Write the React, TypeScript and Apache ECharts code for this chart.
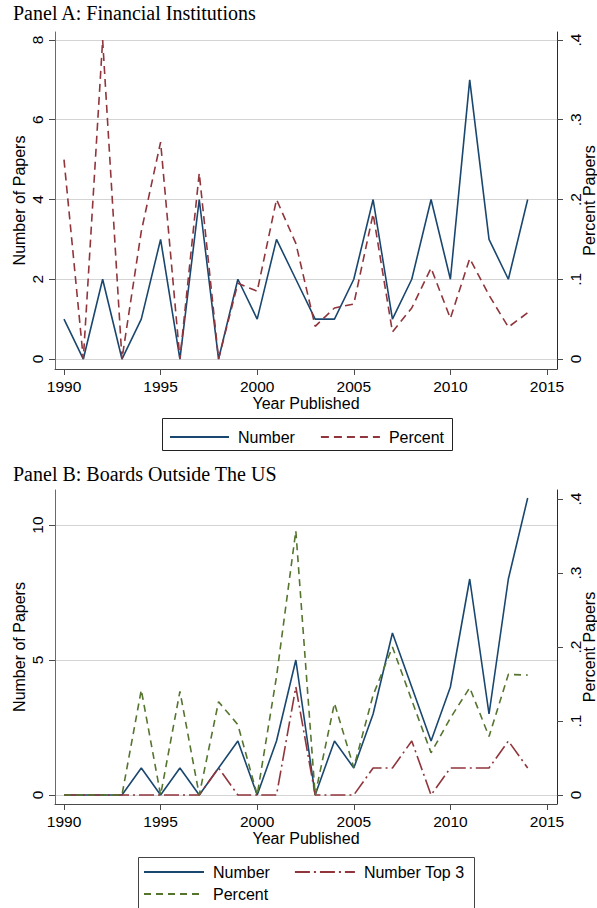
import React, { useEffect, useRef } from "react";
import * as echarts from "echarts";

// ---------- data ----------
const years = [
  1990, 1991, 1992, 1993, 1994, 1995, 1996, 1997, 1998, 1999, 2000, 2001, 2002,
  2003, 2004, 2005, 2006, 2007, 2008, 2009, 2010, 2011, 2012, 2013, 2014,
];

// Panel A: Financial Institutions
const panelANumber = [1, 0, 2, 0, 1, 3, 0, 4, 0, 2, 1, 3, 2, 1, 1, 2, 4, 1, 2, 4, 2, 7, 3, 2, 4];
const panelAPercent = [
  0.25, 0, 0.4, 0, 0.16, 0.272, 0, 0.233, 0, 0.095, 0.085, 0.2, 0.145, 0.041,
  0.064, 0.069, 0.182, 0.034, 0.064, 0.114, 0.051, 0.126, 0.08, 0.04, 0.058,
];

// Panel B: Boards Outside The US
const panelBNumber = [0, 0, 0, 0, 1, 0, 1, 0, 1, 2, 0, 2, 5, 0, 2, 1, 3, 6, 4, 2, 4, 8, 3, 8, 11];
const panelBTop3 = [0, 0, 0, 0, 0, 0, 0, 0, 1, 0, 0, 0, 4, 0, 0, 0, 1, 1, 2, 0, 1, 1, 1, 2, 1];
const panelBPercent = [
  0, 0, 0, 0, 0.142, 0, 0.14, 0, 0.126, 0.095, 0, 0.16, 0.357, 0, 0.124, 0.037,
  0.135, 0.2, 0.128, 0.057, 0.104, 0.145, 0.079, 0.163, 0.162,
];

const xTicks = [1990, 1995, 2000, 2005, 2010, 2015];
const aLeftTicks = [0, 2, 4, 6, 8];
const bLeftTicks = [0, 5, 10];
const pctTicks = [0, 0.1, 0.2, 0.3, 0.4];

const titles = ["Panel A: Financial Institutions", "Panel B: Boards Outside The US"];

// ---------- styles ----------
const SANS = "Liberation Sans";
const SERIF = "Liberation Serif";
const NAVY = "#1a476f";
const MAROON = "#90353b";
const GREEN = "#55752f";
const AXIS = "#4a4a4a";

const pair = (vals: number[]) => years.map((y, i) => [y, vals[i]]);
const pctFmt = (v: number) => (v === 0 ? "0" : String(v).replace(/^0/, ""));
const plainFmt = (v: number) => String(v);

function xAxis(gridIndex: number) {
  return {
    type: "value",
    gridIndex,
    min: 1989.534,
    max: 2015.518,
    axisLine: { show: true, onZero: false, lineStyle: { color: AXIS, width: 1 } },
    axisTick: { show: true, length: 6, customValues: xTicks, lineStyle: { color: AXIS } },
    axisLabel: {
      customValues: xTicks,
      margin: 9,
      fontSize: 15.5,
      color: "#000",
      fontFamily: SANS,
      formatter: plainFmt,
    },
    splitLine: { show: false },
    name: "Year Published",
    nameLocation: "middle",
    nameGap: 26,
    nameMoveOverlap: false,
    nameTextStyle: { fontSize: 16, color: "#000", fontFamily: SANS },
  };
}

function yAxis(
  gridIndex: number,
  position: string,
  min: number,
  max: number,
  ticks: number[],
  name: string,
  grid: boolean,
  fmt: (v: number) => string
) {
  return {
    type: "value",
    gridIndex,
    position,
    min,
    max,
    axisLine: {
      show: true,
      onZero: false,
      lineStyle: { color: position === "left" ? "#6a6a6a" : "#2a2a2a", width: 1 },
    },
    axisTick: { show: true, length: 6, customValues: ticks, lineStyle: { color: AXIS } },
    axisLabel: {
      customValues: ticks,
      rotate: 90,
      margin: 10,
      fontSize: 15.5,
      color: "#000",
      fontFamily: SANS,
      formatter: fmt,
    },
    splitLine: { show: grid, lineStyle: { color: "#d4d4d4", width: 1 } },
    name,
    nameLocation: "middle",
    nameRotate: 90,
    nameGap: position === "left" ? 28 : 24,
    nameMoveOverlap: false,
    nameTextStyle: { fontSize: 16, color: "#000", fontFamily: SANS },
  };
}

const legendText = {
  fontSize: 16,
  color: "#000",
  fontFamily: SANS,
  lineHeight: 16,
  padding: [0, 0, 0, 4],
};
const legendFmt = (n: string) => n.replace(/^[AB]_/, "");
const legendBase = {
  padding: 0,
  itemHeight: 16,
  itemGap: 24,
  textStyle: legendText,
  selectedMode: false,
  itemStyle: { opacity: 0 },
};

export default function App() {
  const ref = useRef<HTMLDivElement>(null);

  useEffect(() => {
    if (!ref.current) return;
    const chart = echarts.init(ref.current, null, { renderer: "svg", width: 597, height: 908 });

    const titleStyle = { fontFamily: SERIF, fontSize: 20, fontWeight: "normal", color: "#000" };

    const option: any = {
      animation: false,
      backgroundColor: "#fff",
      title: [
        { text: titles[0], left: 13, top: 3, padding: 0, textStyle: titleStyle },
        { text: titles[1], left: 13, top: 464, padding: 0, textStyle: titleStyle },
      ],
      grid: [
        { left: 55, top: 32, width: 502, height: 337, containLabel: false, outerBoundsMode: "none" },
        { left: 55, top: 490, width: 502, height: 314, containLabel: false, outerBoundsMode: "none" },
      ],
      xAxis: [xAxis(0), xAxis(1)],
      yAxis: [
        yAxis(0, "left", -0.25, 8.2, aLeftTicks, "Number of Papers", true, plainFmt),
        yAxis(0, "right", -0.0125, 0.41, pctTicks, "Percent Papers", false, pctFmt),
        yAxis(1, "left", -0.3333, 11.2963, bLeftTicks, "Number of Papers", true, plainFmt),
        yAxis(1, "right", -0.01216, 0.41216, pctTicks, "Percent Papers", false, pctFmt),
      ],
      legend: [
        {
          ...legendBase,
          left: 169,
          top: 429,
          itemWidth: 59,
          itemGap: 25,
          data: ["A_Number", "A_Percent"],
          formatter: legendFmt,
        },
        {
          ...legendBase,
          left: 143,
          top: 864,
          itemWidth: 60,
          data: ["B_Number", "B_Top3"],
          formatter: (n: string) => (n === "B_Top3" ? "Number Top 3" : legendFmt(n)),
        },
        {
          ...legendBase,
          left: 143,
          top: 886,
          itemWidth: 60,
          data: ["B_Percent"],
          formatter: legendFmt,
        },
      ],
      graphic: [
        {
          type: "rect",
          shape: { x: 162.5, y: 418.5, width: 290, height: 32 },
          style: { fill: "none", stroke: "#222", lineWidth: 1 },
          silent: true,
        },
        {
          type: "rect",
          shape: { x: 138.5, y: 857.5, width: 336, height: 54 },
          style: { fill: "none", stroke: "#444", lineWidth: 1 },
          silent: true,
        },
      ],
      series: [
        {
          name: "A_Number",
          type: "line",
          xAxisIndex: 0,
          yAxisIndex: 0,
          data: pair(panelANumber),
          symbol: "none",
          lineStyle: { color: NAVY, width: 1.6 },
          itemStyle: { color: NAVY },
        },
        {
          name: "A_Percent",
          type: "line",
          xAxisIndex: 0,
          yAxisIndex: 1,
          data: pair(panelAPercent),
          symbol: "none",
          lineStyle: { color: MAROON, width: 1.6, type: [8, 5] },
          itemStyle: { color: MAROON },
        },
        {
          name: "B_Number",
          type: "line",
          xAxisIndex: 1,
          yAxisIndex: 2,
          data: pair(panelBNumber),
          symbol: "none",
          lineStyle: { color: NAVY, width: 1.6 },
          itemStyle: { color: NAVY },
        },
        {
          name: "B_Top3",
          type: "line",
          xAxisIndex: 1,
          yAxisIndex: 2,
          data: pair(panelBTop3),
          symbol: "none",
          lineStyle: { color: MAROON, width: 1.6, type: [15, 4, 2, 4] },
          itemStyle: { color: MAROON },
        },
        {
          name: "B_Percent",
          type: "line",
          xAxisIndex: 1,
          yAxisIndex: 3,
          data: pair(panelBPercent),
          symbol: "none",
          lineStyle: { color: GREEN, width: 1.6, type: [7, 5] },
          itemStyle: { color: GREEN },
        },
      ],
    };

    chart.setOption(option);
    return () => chart.dispose();
  }, []);

  return (
    <div
      ref={ref}
      style={{ position: "fixed", left: 0, top: 0, width: 597, height: 908, background: "#fff" }}
    />
  );
}
